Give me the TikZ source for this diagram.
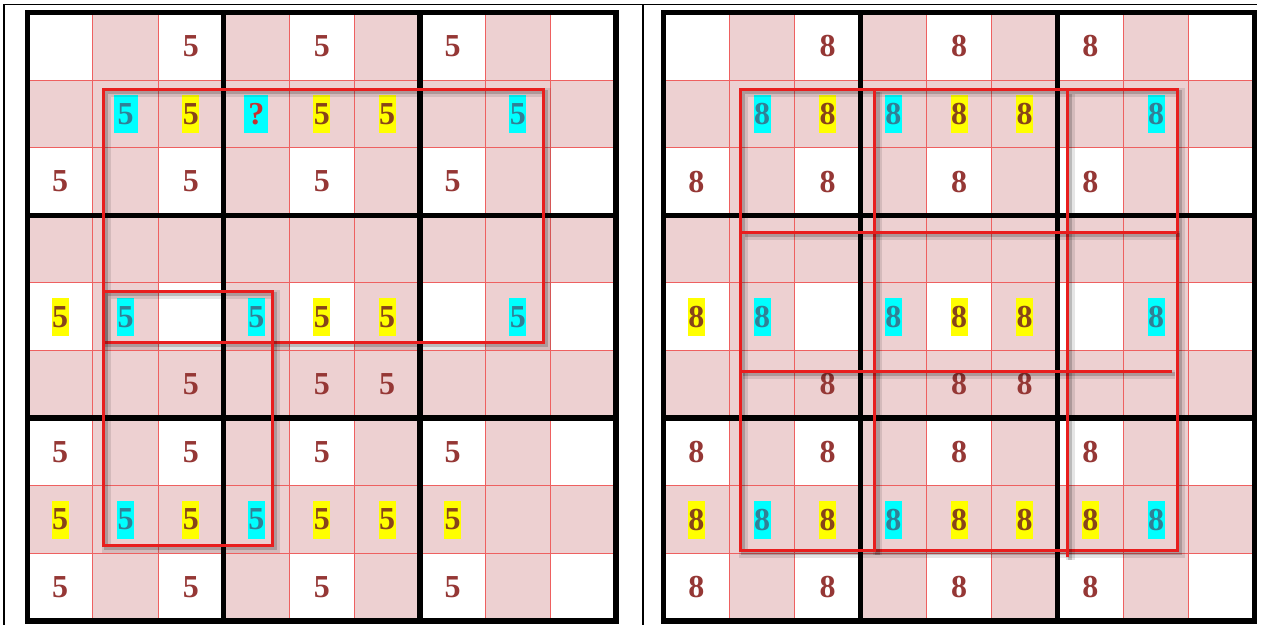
\documentclass[tikz,border=0pt]{standalone}
\usepackage{fontspec}
\setmainfont{Liberation Serif}
\definecolor{pinkc}{RGB}{237,208,209}
\definecolor{gridred}{RGB}{238,96,96}
\definecolor{boxred}{RGB}{232,30,30}
\definecolor{digred}{RGB}{149,55,53}
\definecolor{digteal}{RGB}{49,128,150}
\definecolor{digbrown}{RGB}{135,68,26}
\definecolor{qred}{RGB}{200,48,48}
\definecolor{hlcyan}{RGB}{0,255,255}
\definecolor{hlyellow}{RGB}{255,255,0}
\tikzset{
  thinred/.style={draw=gridred, line width=0.9},
  thickblk/.style={draw=black, line width=5.5},
  tableline/.style={draw=black, line width=1.3},
  digit/.style={font=\fontsize{32}{32}\selectfont\bfseries, inner sep=0pt, minimum height=38, anchor=center},
  dp/.style={digit, text=digred},
  dc/.style={digit, fill=hlcyan, text=digteal, minimum width=17},
  dcw/.style={digit, fill=hlcyan, text=digteal, minimum width=24},
  dy/.style={digit, fill=hlyellow, text=digbrown, minimum width=17},
  dq/.style={digit, fill=hlcyan, text=qred, minimum width=24},
  redbox/.style={draw=boxred, line width=3,
    preaction={draw=black, opacity=0.10, line width=9, transform canvas={shift={(3,3)}}},
    preaction={draw=black, opacity=0.18, line width=4.5, transform canvas={shift={(3,3)}}}},
}
\newcommand\drawsudoku[6]{%
  \begin{scope}[shift={(#2,#3)}]
    \foreach \i in {2,4,6,8} {
      \fill[pinkc] ({(\i-1)*#4},0) rectangle ({\i*#4},{9*#5});
      \fill[pinkc] (0,{(\i-1)*#5}) rectangle ({9*#4},{\i*#5});
    }
    \foreach \i in {1,...,8} {
      \draw[thinred] ({\i*#4},0) -- ({\i*#4},{9*#5});
      \draw[thinred] (0,{\i*#5}) -- ({9*#4},{\i*#5});
    }
    \foreach \r/\c/\t/\s in {#6} {
      \node[\s] (#1-\r-\c) at ({(\c-0.5)*#4},{(\r-0.5)*#5}) {\t};
    }
    \foreach \i in {3,6} {
      \draw[thickblk] ({\i*#4},0) -- ({\i*#4},{9*#5});
      \draw[thickblk] (0,{\i*#5}) -- ({9*#4},{\i*#5});
    }
    \draw[thickblk] (0,0) rectangle ({9*#4},{9*#5});
  \end{scope}}
\begin{document}
\begin{tikzpicture}[x=1pt,y=-1pt]
\useasboundingbox (0,0) rectangle (1276,624);
\fill[white] (0,0) rectangle (1276,624);
% table lines
\draw[tableline] (4,4.5) -- (1257,4.5);
\draw[tableline] (4,4) -- (4,630);
\draw[tableline] (643,4) -- (643,630);
% left sudoku
\drawsudoku{L}{27.5}{12.5}{65.39}{67.61}{%
1/3/5/dp, 1/5/5/dp, 1/7/5/dp,
2/2/5/dcw, 2/3/5/dy, 2/4/?/dq, 2/5/5/dy, 2/6/5/dy, 2/8/5/dc,
3/1/5/dp, 3/3/5/dp, 3/5/5/dp, 3/7/5/dp,
5/1/5/dy, 5/2/5/dc, 5/4/5/dc, 5/5/5/dy, 5/6/5/dy, 5/8/5/dc,
6/3/5/dp, 6/5/5/dp, 6/6/5/dp,
7/1/5/dp, 7/3/5/dp, 7/5/5/dp, 7/7/5/dp,
8/1/5/dy, 8/2/5/dc, 8/3/5/dy, 8/4/5/dc, 8/5/5/dy, 8/6/5/dy, 8/7/5/dy,
9/1/5/dp, 9/3/5/dp, 9/5/5/dp, 9/7/5/dp}
% right sudoku
\drawsudoku{R}{663.5}{12.5}{65.67}{67.61}{%
1/3/8/dp, 1/5/8/dp, 1/7/8/dp,
2/2/8/dc, 2/3/8/dy, 2/4/8/dc, 2/5/8/dy, 2/6/8/dy, 2/8/8/dc,
3/1/8/dp, 3/3/8/dp, 3/5/8/dp, 3/7/8/dp,
5/1/8/dy, 5/2/8/dc, 5/4/8/dc, 5/5/8/dy, 5/6/8/dy, 5/8/8/dc,
6/3/8/dp, 6/5/8/dp, 6/6/8/dp,
7/1/8/dp, 7/3/8/dp, 7/5/8/dp, 7/7/8/dp,
8/1/8/dy, 8/2/8/dc, 8/3/8/dy, 8/4/8/dc, 8/5/8/dy, 8/6/8/dy, 8/7/8/dy, 8/8/8/dc,
9/1/8/dp, 9/3/8/dp, 9/5/8/dp, 9/7/8/dp}
% red frames, left
\draw[redbox] (103,89) rectangle (543,342);
\draw[redbox] (103,291) rectangle (272,545);
% red frames, right
\draw[redbox] (740,89) rectangle (1177,550);
\draw[redbox] (874.5,89) -- (874.5,552);
\draw[redbox] (1067,91) -- (1067,557);
\draw[redbox] (742,232) -- (1177,232);
\draw[redbox] (740,371) -- (1172,371);
\end{tikzpicture}
\end{document}
